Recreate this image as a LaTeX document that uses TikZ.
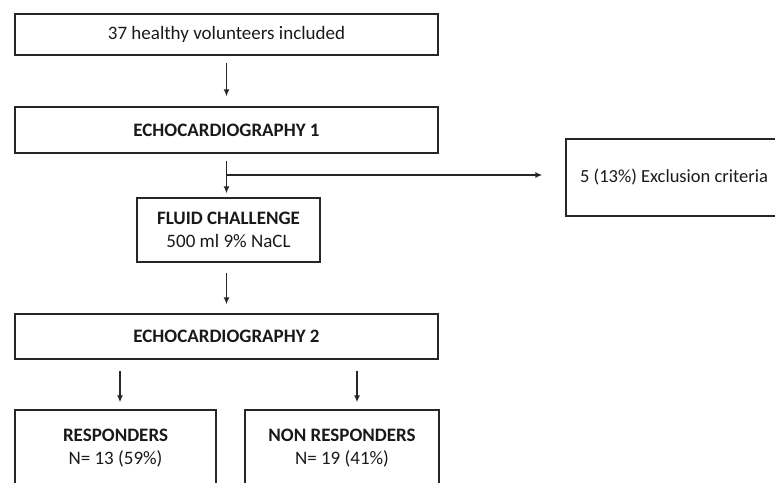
\documentclass[tikz,border=0pt]{standalone}
\usepackage{fontspec}
\setmainfont{Carlito}
\usetikzlibrary{arrows.meta}

\tikzset{
    flowbox/.style={draw=black!85, line width=1.3pt, inner sep=0pt, align=center,
        font=\fontsize{19}{23}\selectfont, text=black!90},
    flowarrow/.style={draw=black!85, line width=1.4pt, -{Latex[length=7pt,width=6pt]}}
}

\begin{document}
\begin{tikzpicture}[x=1pt, y=-1pt]
    \useasboundingbox (0, 0) rectangle (775, 482);
    \clip (0, 0) rectangle (775, 482);
    % main column
    \node[flowbox, minimum width=423pt, minimum height=41pt] (incl) at (226.5, 34.5) {37 healthy volunteers included};
    \node[flowbox, minimum width=423pt, minimum height=46pt] (echoA) at (226.5, 130) {\textbf{ECHOCARDIOGRAPHY 1}};
    \node[flowbox, minimum width=183pt, minimum height=64pt] (fluid) at (228.5, 230) {\textbf{FLUID CHALLENGE}\\500 ml 9\% NaCL};
    \node[flowbox, minimum width=423pt, minimum height=45pt] (echoB) at (226.5, 336.5) {\textbf{ECHOCARDIOGRAPHY 2}};
    % side and bottom boxes
    \node[flowbox, font=\fontsize{18.5}{23}\selectfont, minimum width=216pt, minimum height=77pt] (excl) at (674, 177.5) {5 (13\%) Exclusion criteria};
    \node[flowbox, minimum width=201pt, minimum height=76pt] (resp) at (115.5, 448) {\textbf{RESPONDERS}\\N= 13 (59\%)};
    \node[flowbox, minimum width=194pt, minimum height=76pt] (nonresp) at (342, 448) {\textbf{NON RESPONDERS}\\N= 19 (41\%)};
    \coordinate (split) at (227, 175);
    % arrows
    \draw[flowarrow, shorten <=7pt, shorten >=10pt] (incl.south) -- (echoA.north);
    \draw[flowarrow, shorten <=7pt, shorten >=4pt] (echoA.south) -- (fluid.north -| echoA.south);
    \draw[flowarrow, shorten >=23pt] (split) -- (split -| excl.west);
    \draw[flowarrow, shorten <=10pt, shorten >=9pt] (fluid.south -| echoB.north) -- (echoB.north);
    \draw[flowarrow, shorten <=11pt, shorten >=7pt] ([xshift=-106.5pt]echoB.south) -- ([xshift=4.5pt]resp.north);
    \draw[flowarrow, shorten <=11pt, shorten >=7pt] ([xshift=130.5pt]echoB.south) -- ([xshift=15pt]nonresp.north);
\end{tikzpicture}
\end{document}
